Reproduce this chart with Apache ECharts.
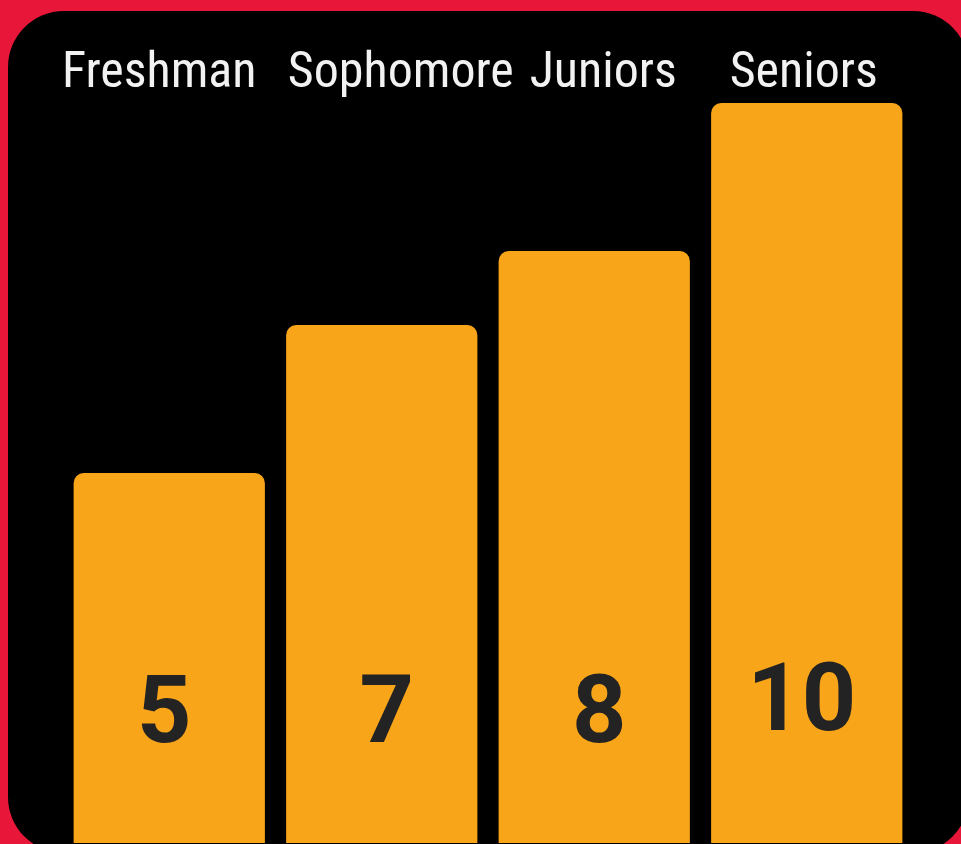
<!DOCTYPE html>
<html>
<head>
<meta charset="utf-8">
<style>
html,body{margin:0;padding:0;background:#E8173A;}
#chart{width:961px;height:844px;}
</style>
<script src="https://cdn.jsdelivr.net/npm/echarts@6/dist/echarts.min.js"></script>
</head>
<body>
<div id="chart"></div>
<script>
const categories = ['Freshman', 'Sophomore', 'Juniors', 'Seniors'];
const values = [5, 7, 8, 10];

// label nudges (styling only)
const labelShift = [-10, 19, 9, -3];
const valueLift = [0, 0, 0, 12];
const valueShiftX = [-5, 5, 5, -5];

const chart = echarts.init(document.getElementById('chart'), null, {renderer: 'canvas'});
const rich = {};
labelShift.forEach((s, i) => {
  rich['c' + i] = {
    fontFamily: "'Roboto Condensed', 'Liberation Sans Narrow', 'Roboto', sans-serif",
    fontSize: 50,
    color: '#F2F2F2',
    padding: s < 0 ? [0, -2 * s, 0, 0] : [0, 0, 0, 2 * s]
  };
});

chart.setOption({
  backgroundColor: '#E8173A',
  animation: false,
  graphic: [{
    type: 'rect',
    z: -10,
    shape: {x: 8, y: 11, width: 961, height: 842, r: 56},
    style: {fill: '#000000'}
  }],
  grid: {left: 63, right: 48, top: 103, bottom: 1, containLabel: false},
  xAxis: {
    type: 'category',
    position: 'top',
    data: categories,
    axisLine: {show: false},
    axisTick: {show: false},
    axisLabel: {
      margin: 4,
      formatter: (v, i) => '{c' + i + '|' + v + '}',
      rich: rich
    }
  },
  yAxis: {
    type: 'value',
    min: 0,
    max: 10,
    show: false,
    splitLine: {show: false}
  },
  series: [{
    type: 'bar',
    barCategoryGap: '10%',
    data: values.map((v, i) => ({
      value: v,
      label: {distance: 77 + valueLift[i], offset: [valueShiftX[i], 0]}
    })),
    itemStyle: {color: '#F8A51A', borderRadius: [10, 10, 0, 0]},
    label: {
      show: true,
      position: 'insideBottom',
      fontFamily: 'Roboto',
      fontWeight: 'bold',
      fontSize: 95,
      color: '#232323'
    }
  }]
});
</script>
</body>
</html>
